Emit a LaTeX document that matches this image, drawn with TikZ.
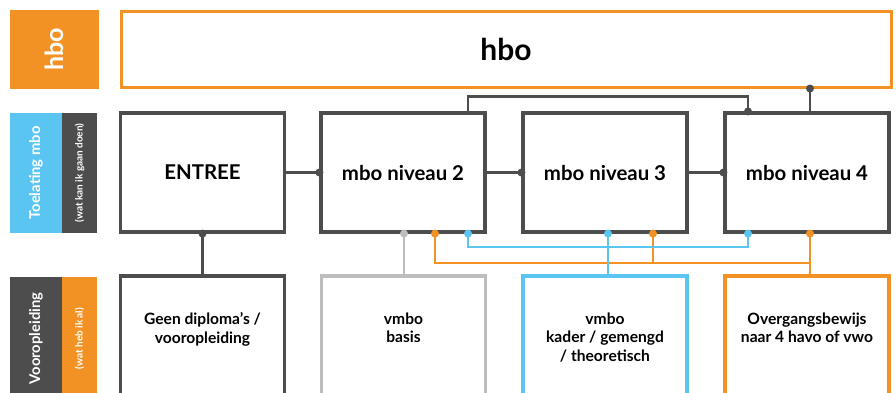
\documentclass[tikz,border=0pt]{standalone}
\usepackage{fontspec}
\setmainfont{Lato}
\usetikzlibrary{positioning,calc}
\definecolor{hboorange}{HTML}{F39224}
\definecolor{mboblue}{HTML}{5BC5F2}
\definecolor{darkgrey}{HTML}{4D4D4D}
\definecolor{lightgrey}{HTML}{BDBDBD}
\tikzset{side/.style={rectangle, rotate=90, text=white, inner sep=0pt, font=\bfseries},
  topbox/.style={rectangle, draw=hboorange, line width=1.5pt, fill=white, minimum width=385pt, minimum height=38pt, font=\fontsize{15}{17}\selectfont\bfseries},
  box/.style={rectangle, draw=darkgrey, line width=1.6pt, fill=white, minimum width=82pt, minimum height=59.5pt, font=\fontsize{10.2}{12}\selectfont\bfseries},
  lowbox/.style={rectangle, draw=darkgrey, line width=1.6pt, fill=white, minimum width=82pt, minimum height=62pt},
  lowtxt/.style={align=center, inner sep=0pt, font=\fontsize{7.8}{9.2}\selectfont\bfseries},
  link/.style={line width=1.1pt}}

\begin{document}
\begin{tikzpicture}[x=0.5pt,y=-0.5pt]
	\useasboundingbox (0,0) rectangle (896,392);
	\clip (0,0) rectangle (896,392);
	% left column
	\node[side, fill=hboorange, minimum width=39.5pt, minimum height=44.5pt, font=\fontsize{12.5}{12}\selectfont\bfseries] (lhbo) at (54.5,49.5) {hbo};
	\node[side, fill=mboblue, minimum width=60pt, minimum height=26pt, font=\fontsize{7.4}{8}\selectfont\bfseries] (ltoel) at (36,173) {Toelating mbo};
	\node[side, fill=darkgrey, minimum width=60pt, minimum height=17.5pt, font=\fontsize{5}{5}\selectfont\bfseries] (ltoelsub) at (79.5,173) {(wat kan ik gaan doen)};
	\node[side, fill=darkgrey, minimum width=62pt, minimum height=26pt, font=\fontsize{7.4}{8}\selectfont\bfseries] (lvoor) at (36,338.5) {Vooropleiding};
	\node[side, fill=hboorange, minimum width=62pt, minimum height=17.5pt, font=\fontsize{5}{5}\selectfont\bfseries] (lvoorsub) at (79.5,338.5) {(wat heb ik al)};
	% hbo and mbo
	\node[topbox] (hbo) at (506,49) {hbo};
	\node[box] (entree) at (202.5,172.5) {ENTREE};
	\node[box] (mbo2) at (403,172.5) {mbo niveau 2};
	\node[box] (mbo3) at (605,172.5) {mbo niveau 3};
	\node[box] (mbo4) at (807,172.5) {mbo niveau 4};
	% vooropleiding
	\node[lowbox] (geen) at (202.5,338) {};
	\node[lowbox, draw=lightgrey] (basis) at (403.5,338) {};
	\node[lowbox, draw=mboblue] (kader) at (605,338) {};
	\node[lowbox, draw=hboorange] (overgang) at (807,338) {};
	\node[lowtxt, below=19pt of geen.north] (geentxt) {Geen diploma’s /\\vooropleiding};
	\node[lowtxt, below=19pt of basis.north] (basistxt) {vmbo\\basis};
	\node[lowtxt, below=19pt of kader.north] (kadertxt) {vmbo\\kader / gemengd\\/ theoretisch};
	\node[lowtxt, below=19pt of overgang.north] (overgangtxt) {Overgangsbewijs\\naar 4 havo of vwo};
	% points on the borders
	\coordinate (m2top) at ([xshift=32.5pt]mbo2.north);
	\coordinate (m4top) at ([xshift=-29.5pt]mbo4.north);
	\coordinate (m4up) at ([xshift=1.5pt]mbo4.north);
	\coordinate (m2grey) at ([xshift=0.5pt]mbo2.south);
	\coordinate (m2orange) at ([xshift=16pt]mbo2.south);
	\coordinate (m2blue) at ([xshift=32.5pt]mbo2.south);
	\coordinate (m3blue) at ([xshift=1.5pt]mbo3.south);
	\coordinate (m3orange) at ([xshift=24pt]mbo3.south);
	\coordinate (m4blue) at ([xshift=-29.5pt]mbo4.south);
	\coordinate (m4orange) at ([xshift=1.5pt]mbo4.south);
	% dark connectors
	\draw[link, darkgrey] (entree.east) -- (mbo2.west);
	\draw[link, darkgrey] (mbo2.east) -- (mbo3.west);
	\draw[link, darkgrey] (mbo3.east) -- (mbo4.west);
	\draw[link, darkgrey] (m2top) -- ++(0,-15) -| (m4top);
	\draw[link, darkgrey] (m4up) -- (m4up |- hbo.south);
	\draw[link, darkgrey] (entree.south) -- (geen.north);
	\draw[link, lightgrey] (m2grey) -- (m2grey |- basis.north);
	% orange and blue connectors
	\draw[link, hboorange] (m2orange) -- ++(0,29) -| (m4orange);
	\draw[link, hboorange] (m3orange) -- ++(0,29);
	\draw[link, hboorange] (m4orange) -- (m4orange |- overgang.north);
	\draw[link, mboblue] (m2blue) -- ++(0,13) -| (m4blue);
	\draw[link, mboblue] (m3blue) -- (m3blue |- kader.north);
	% dots
	\foreach \p in {mbo2.west, mbo3.west, mbo4.west, m4top, entree.south}
		\fill[darkgrey] (\p) circle (2pt);
	\fill[darkgrey] (m4up |- hbo.south) circle (2pt);
	\fill[lightgrey] (m2grey) circle (2pt);
	\foreach \p in {m2orange, m3orange, m4orange}
		\fill[hboorange] (\p) circle (2pt);
	\foreach \p in {m2blue, m3blue, m4blue}
		\fill[mboblue] (\p) circle (2pt);
\end{tikzpicture}
\end{document}
